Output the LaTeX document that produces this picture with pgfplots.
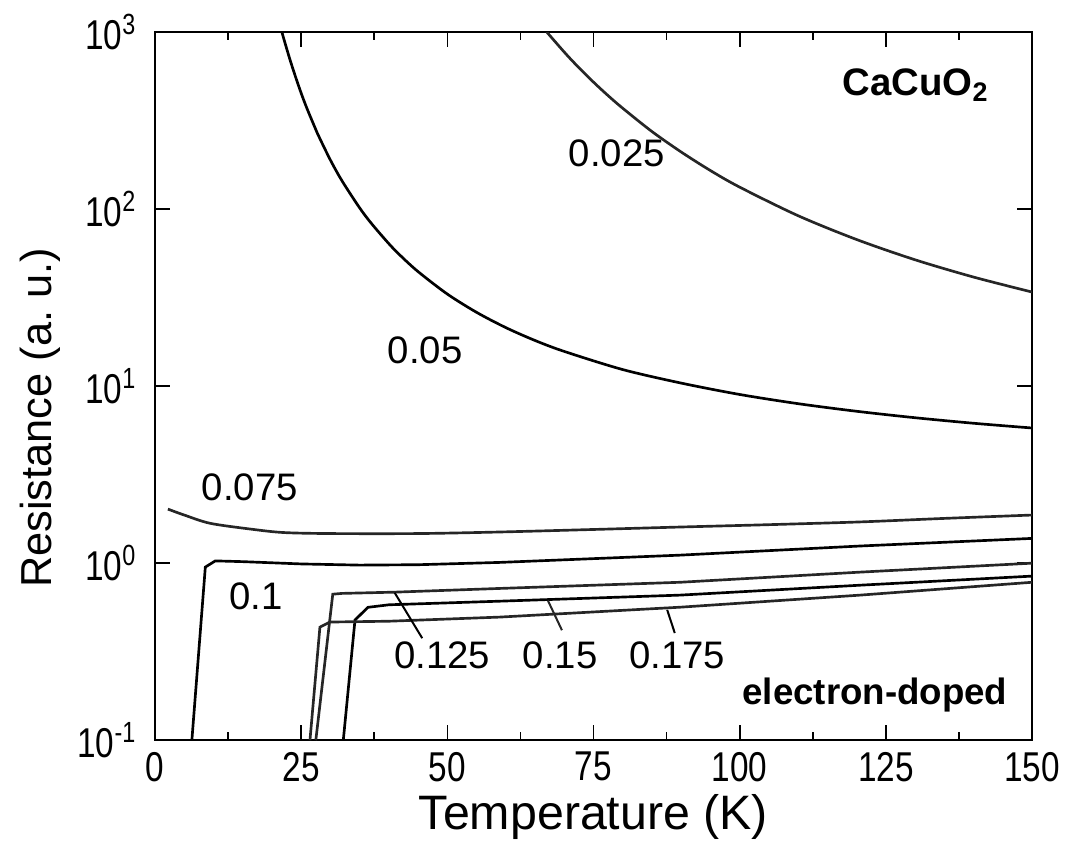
\documentclass[border=0pt]{standalone}
\usepackage{fontspec}
\setmainfont{Liberation Sans}
\usepackage{graphicx}
\usepackage{pgfplots}
\pgfplotsset{compat=1.18}

% label sizes, tick numbers are a touch condensed in the original
\newcommand{\tickfont}{\fontsize{12.5}{13}\selectfont}
\newcommand{\curvefont}{\fontsize{11.5}{12}\selectfont}

\begin{document}
\begin{tikzpicture}
% fixed page: 1072x863 px at 0.3 pt per px, axis box 877x708 px
\useasboundingbox (-46.5pt,-36.9pt) rectangle (275pt,222pt);
\begin{axis}[
  at={(0,0)}, anchor=south west,
  scale only axis,
  width=263pt, height=212.4pt,
  ymode=log, log basis y=10,
  xmin=0, xmax=150, ymin=0.1, ymax=1000,
  xtick={0,25,...,150}, minor x tick num=1,
  ytick={0.1,1,10,100,1000},
  xticklabel={\scalebox{0.8}[1]{\pgfmathparse{int(round(\tick))}\pgfmathresult}},
  yticklabel={\scalebox{0.8}[1]{10\textsuperscript{\pgfmathparse{int(round(\tick))}\pgfmathresult}}},
  tick label style={font=\tickfont},
  yticklabel style={xshift=-2pt},
  major tick length=4.5pt, minor tick length=2.5pt,
  axis line style={line width=0.6pt},
  every tick/.style={black, line width=0.5pt},
  xlabel={Temperature (K)},
  ylabel={Resistance (a.\ u.)},
  xlabel style={font=\fontsize{14.5}{15}\selectfont,
                at={(axis description cs:0.5,-0.109)}, anchor=center},
  ylabel style={font=\fontsize{13}{14}\selectfont,
                at={(axis description cs:-0.131,0.455)}, anchor=center},
  cycle list={{black!85, solid}},
  every axis plot/.append style={line width=0.8pt, no markers},
  clip=true,
]

% ---- insulating curves ----------------------------------------------
% x = 0.025
\addplot+[smooth] coordinates {(67,1000) (70,770) (72,654) (75,521) (77.5,437)
  (80,371) (85,274) (90,210) (95,165) (100,133) (110,91.7) (120,67.3)
  (130,51.7) (140,41.3) (150,34.0)};
% x = 0.05
\addplot+[smooth] coordinates {(21.7,1000) (22,921) (23,712) (24,562) (25,451)
  (26,369) (27.5,281) (28,258) (30,189) (32,144) (35,101.5) (37,83.0)
  (40,63.7) (42,54.5) (45,44.3) (50,33.1) (55,26.1) (60,21.4) (65,18.1)
  (70,15.7) (80,12.4) (90,10.4) (100,8.97) (110,7.96) (120,7.21)
  (130,6.63) (140,6.17) (150,5.80)};
% x = 0.075
\addplot+[smooth] coordinates {(2.2,2.02) (5,1.87) (9.4,1.68) (16.2,1.56) (21.9,1.49)
  (30,1.47) (45,1.47) (59,1.50) (75,1.55) (89.8,1.60) (105,1.65)
  (120.6,1.71) (135,1.79) (150,1.87)};

% ---- superconducting curves -----------------------------------------
% x = 0.1
\addplot coordinates {(6.3,0.1) (8.6,0.95) (10.3,1.03) (15,1.02) (25,0.99)
  (35,0.975) (45,0.98) (59,1.01) (89.8,1.11) (120.6,1.25) (150,1.38)};
% x = 0.125
\addplot coordinates {(27.5,0.1) (30.4,0.668) (32,0.675) (41,0.686) (59,0.72)
  (89.8,0.78) (120.6,0.89) (150,1.0)};
% x = 0.15
\addplot coordinates {(32.2,0.1) (34.2,0.477) (36.4,0.563) (40,0.582) (59,0.61)
  (89.8,0.66) (120.6,0.751) (150,0.845)};
% x = 0.175
\addplot coordinates {(26.5,0.1) (28.2,0.435) (29.9,0.465) (40,0.47) (59,0.496)
  (89.8,0.564) (120.6,0.66) (150,0.78)};

% ---- leader lines to the lower labels -------------------------------
\addplot+[line width=0.6pt] coordinates {(41,0.68) (45.7,0.377)};
\addplot+[line width=0.6pt] coordinates {(67.2,0.615) (69.6,0.418)};
\addplot+[line width=0.6pt] coordinates {(87.6,0.545) (88.9,0.403)};

% ---- labels ----------------------------------------------------------
\node[font=\curvefont] at (axis cs:79,207) {0.025};
\node[font=\curvefont] at (axis cs:46.2,16) {0.05};
\node[font=\curvefont] at (axis cs:16.2,2.69) {0.075};
\node[font=\curvefont] at (axis cs:17.3,0.652) {0.1};
\node[font=\curvefont] at (axis cs:49.1,0.302) {0.125};
\node[font=\curvefont] at (axis cs:69.3,0.302) {0.15};
\node[font=\curvefont] at (axis cs:89.3,0.302) {0.175};
\node[font=\fontsize{11.5}{12}\selectfont\bfseries, anchor=east, inner sep=0pt]
  at (axis cs:142.8,501) {CaCuO\textsubscript{2}};
\node[font=\fontsize{11}{12}\selectfont\bfseries, anchor=east, inner sep=0pt]
  at (axis cs:145.9,0.1795) {electron-doped};

\end{axis}
\end{tikzpicture}
\end{document}
